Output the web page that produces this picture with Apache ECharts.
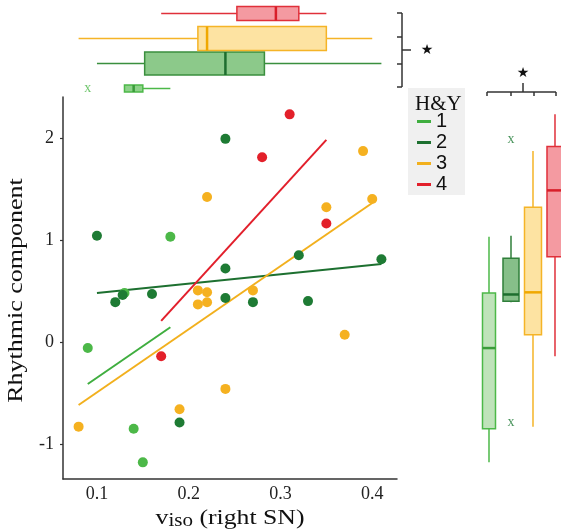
<!DOCTYPE html>
<html><head><meta charset="utf-8">
<script src="https://cdn.jsdelivr.net/npm/echarts@6/dist/echarts.min.js"></script>
<style>html,body{margin:0;padding:0;background:#fff}#c{width:561px;height:530px}</style>
</head><body><div id="c"></div>
<script>
// ---- data ----
const groups = ['1', '2', '3', '4'];                 // H&Y stage
const hy1X = [0.090, 0.130, 0.140, 0.150, 0.180];
const hy1Y = [-0.06, 0.48, -0.85, -1.18, 1.03];
const hy2X = [0.100, 0.120, 0.128, 0.160, 0.190, 0.240, 0.240, 0.240, 0.270, 0.320, 0.330, 0.410];
const hy2Y = [1.04, 0.39, 0.46, 0.47, -0.79, 1.99, 0.72, 0.43, 0.39, 0.85, 0.40, 0.81];
const hy3X = [0.080, 0.190, 0.210, 0.220, 0.210, 0.220, 0.220, 0.240, 0.270, 0.350, 0.370, 0.390, 0.400];
const hy3Y = [-0.83, -0.66, 0.505, 0.486, 0.368, 0.388, 1.42, -0.46, 0.505, 1.32, 0.07, 1.87, 1.40];
const hy4X = [0.170, 0.280, 0.310, 0.350];
const hy4Y = [-0.14, 1.81, 2.23, 1.16];
const xTicks = [0.1, 0.2, 0.3, 0.4];
const yTicks = [-1, 0, 1, 2];
const xName = 'v';
const xNameSub = 'iso';
const xNameRest = ' (right SN)';
const yName = 'Rhythmic component';
const legendTitle = 'H&Y';

// ---- styles ----
const dotColors = ['#4cb848', '#1e7b34', '#f5b120', '#e3202a'];
const lineColors = ['#3fae3f', '#1d7030', '#f2b01d', '#e21f2b'];
const topFill = ['#8ed28a', '#8cc98a', '#fde3a2', '#f49aa1'];
const topStroke = ['#4cb848', '#3a8f3e', '#f5b427', '#e0303a'];
const medColor = ['#3a9c3a', '#1d6e2e', '#f0a800', '#d81f2a'];
const topBoxH = [7, 23, 24, 14];
const rightFill = ['#bfe3ba', '#86bf89', '#fde3a2', '#f49aa1'];
const rightStroke = ['#4cb848', '#2f7f3a', '#f5b427', '#e0303a'];
const rightBoxW = [13, 16, 17, 16];
const SERIF = '"Liberation Serif", "Times New Roman", serif';
const SANS = '"Liberation Sans", Arial, sans-serif';

const xs = [hy1X, hy2X, hy3X, hy4X];
const ys = [hy1Y, hy2Y, hy3Y, hy4Y];

function quantile(a, p) {
  const H = (a.length - 1) * p + 1, h = Math.floor(H), v = a[h - 1], e = H - h;
  return e ? v + e * (a[h] - v) : v;
}
function boxStats(arr) {
  const s = arr.slice().sort((a, b) => a - b);
  const q1 = quantile(s, 0.25), md = quantile(s, 0.5), q3 = quantile(s, 0.75);
  const iqr = q3 - q1, lo = q1 - 1.5 * iqr, hi = q3 + 1.5 * iqr;
  const inside = s.filter(v => v >= lo && v <= hi);
  return { box: [inside[0], q1, md, q3, inside[inside.length - 1]], out: s.filter(v => v < lo || v > hi) };
}
function ols(x, y) {
  const n = x.length;
  const mx = x.reduce((a, b) => a + b, 0) / n, my = y.reduce((a, b) => a + b, 0) / n;
  let sxy = 0, sxx = 0;
  for (let i = 0; i < n; i++) { sxy += (x[i] - mx) * (y[i] - my); sxx += (x[i] - mx) * (x[i] - mx); }
  const b = sxy / sxx, a = my - b * mx;
  const x0 = Math.min(...x), x1 = Math.max(...x);
  return [[x0, a + b * x0], [x1, a + b * x1]];
}

const xMin = 0.063, xMax = 0.427, yMin = -1.343, yMax = 2.4;

const topData = [], rightData = [], topOut = [], rightOut = [];
groups.forEach((g, i) => {
  const sx = boxStats(xs[i]), sy = boxStats(ys[i]);
  topData.push([i].concat(sx.box));
  rightData.push([i].concat(sy.box));
  sx.out.forEach(v => topOut.push({ value: [v, i], label: { color: dotColors[i] } }));
  sy.out.forEach(v => rightOut.push({ value: [i, v], label: { color: dotColors[i] } }));
});

function renderTop(params, api) {
  const g = api.value(0);
  const h = topBoxH[g];
  const c = v => api.coord([v, g]);
  const pMin = c(api.value(1)), pQ1 = c(api.value(2)), pMd = c(api.value(3)), pQ3 = c(api.value(4)), pMax = c(api.value(5));
  const y = pMin[1];
  const st = { stroke: topStroke[g], lineWidth: 1.5 };
  return { type: 'group', children: [
    { type: 'line', shape: { x1: pMin[0], y1: y, x2: pQ1[0], y2: y }, style: st },
    { type: 'line', shape: { x1: pQ3[0], y1: y, x2: pMax[0], y2: y }, style: st },
    { type: 'rect', shape: { x: pQ1[0], y: y - h / 2, width: pQ3[0] - pQ1[0], height: h }, style: { fill: topFill[g], stroke: topStroke[g], lineWidth: 1.5 } },
    { type: 'line', shape: { x1: pMd[0], y1: y - h / 2, x2: pMd[0], y2: y + h / 2 }, style: { stroke: medColor[g], lineWidth: 2.5 } }
  ] };
}
function renderRight(params, api) {
  const g = api.value(0);
  const w = rightBoxW[g];
  const c = v => api.coord([g, v]);
  const pMin = c(api.value(1)), pQ1 = c(api.value(2)), pMd = c(api.value(3)), pQ3 = c(api.value(4)), pMax = c(api.value(5));
  const x = pMin[0];
  const st = { stroke: rightStroke[g], lineWidth: 1.5 };
  return { type: 'group', children: [
    { type: 'line', shape: { x1: x, y1: pMin[1], x2: x, y2: pQ1[1] }, style: st },
    { type: 'line', shape: { x1: x, y1: pQ3[1], x2: x, y2: pMax[1] }, style: st },
    { type: 'rect', shape: { x: x - w / 2, y: pQ3[1], width: w, height: pQ1[1] - pQ3[1] }, style: { fill: rightFill[g], stroke: rightStroke[g], lineWidth: 1.5 } },
    { type: 'line', shape: { x1: x - w / 2, y1: pMd[1], x2: x + w / 2, y2: pMd[1] }, style: { stroke: medColor[g], lineWidth: 2.5 } }
  ] };
}

const series = [];
groups.forEach((g, i) => {
  series.push({
    name: g, type: 'line', data: ols(xs[i], ys[i]), showSymbol: false, symbol: 'none', z: 2,
    lineStyle: { color: lineColors[i], width: 2 }, itemStyle: { color: lineColors[i] }, silent: true
  });
});
groups.forEach((g, i) => {
  series.push({
    name: g, type: 'scatter', data: xs[i].map((v, k) => [v, ys[i][k]]), symbolSize: 10, z: 3,
    itemStyle: { color: dotColors[i], opacity: 1 }
  });
});
series.push({ name: 'box-top', type: 'custom', xAxisIndex: 1, yAxisIndex: 1, data: topData,
  encode: { x: [1, 2, 3, 4, 5], y: 0 }, renderItem: renderTop });
series.push({ name: 'box-right', type: 'custom', xAxisIndex: 2, yAxisIndex: 2, data: rightData,
  encode: { x: 0, y: [1, 2, 3, 4, 5] }, renderItem: renderRight });
const outLabel = { show: true, position: 'inside', formatter: 'x', fontFamily: SERIF, fontSize: 14 };
series.push({ name: 'out-top', type: 'scatter', xAxisIndex: 1, yAxisIndex: 1, data: topOut, symbolSize: 1,
  itemStyle: { color: 'rgba(0,0,0,0)' }, label: outLabel });
series.push({ name: 'out-right', type: 'scatter', xAxisIndex: 2, yAxisIndex: 2, data: rightOut, symbolSize: 1,
  itemStyle: { color: 'rgba(0,0,0,0)' }, label: outLabel });

const ink = '#333';
const seg = (x1, y1, x2, y2) => ({ type: 'line', shape: { x1, y1, x2, y2 }, style: { stroke: ink, lineWidth: 1.5 } });
const center = { align: 'center', textAlign: 'center', verticalAlign: 'middle', textVerticalAlign: 'middle' };

const option = {
  animation: false,
  backgroundColor: '#fff',
  grid: [
    { left: 63, top: 97, width: 334, height: 382 },
    { left: 63, top: 1, width: 334, height: 100 },
    { left: 478, top: 97, width: 83, height: 382 }
  ],
  xAxis: [
    { type: 'value', gridIndex: 0, min: xMin, max: xMax,
      axisLine: { show: true, onZero: false, lineStyle: { color: ink, width: 1.5 } },
      axisTick: { show: false }, splitLine: { show: false },
      axisLabel: { customValues: xTicks, formatter: v => v.toFixed(1), fontFamily: SERIF, fontSize: 18, color: '#222', margin: 6 } },
    { type: 'value', gridIndex: 1, min: xMin, max: xMax, show: false },
    { type: 'value', gridIndex: 2, min: -0.5, max: 3.273, show: false }
  ],
  yAxis: [
    { type: 'value', gridIndex: 0, min: yMin, max: yMax,
      axisLine: { show: true, onZero: false, lineStyle: { color: ink, width: 1.5 } },
      axisTick: { show: true, length: 3, customValues: yTicks, lineStyle: { color: ink, width: 1.2 } },
      splitLine: { show: false },
      axisLabel: { customValues: yTicks, fontFamily: SERIF, fontSize: 18, color: '#222', margin: 9 } },
    { type: 'category', gridIndex: 1, data: groups, show: false },
    { type: 'value', gridIndex: 2, min: yMin, max: yMax, show: false }
  ],
  legend: {
    data: groups.map((g, i) => ({ name: g, icon: 'rect', itemStyle: { color: lineColors[i] } })),
    orient: 'vertical', left: 417, top: 111, padding: 0, itemGap: 0,
    itemWidth: 14, itemHeight: 3, selectedMode: false,
    textStyle: { fontFamily: SANS, fontSize: 20, color: '#111', lineHeight: 21 }
  },
  graphic: [
    { type: 'rect', z: 0, shape: { x: 408, y: 88, width: 57, height: 107 }, style: { fill: '#f0f0f0' } },
    { type: 'text', z: 1, x: 415, y: 104, style: { text: legendTitle, font: '21px ' + SERIF, fill: '#111', verticalAlign: 'middle', textVerticalAlign: 'middle' } },
    { type: 'text', z: 1, x: 17, y: 290.5, rotation: Math.PI / 2, scaleX: 1.3,
      style: Object.assign({ text: yName, font: '20px ' + SERIF, fill: '#111' }, center) },
    { type: 'text', z: 1, x: 230, y: 518, scaleX: 1.17,
      style: Object.assign({
        text: '{a|' + xName + '}{b|' + xNameSub + '}{a|' + xNameRest + '}',
        rich: {
          a: { fontFamily: SERIF, fontSize: 22, fill: '#111', lineHeight: 24 },
          b: { fontFamily: SERIF, fontSize: 18, fill: '#111', lineHeight: 17, verticalAlign: 'bottom' }
        }, fill: '#111' }, center) },
    // top bracket
    seg(402, 13, 402, 87), seg(397, 13, 402, 13), seg(397, 37, 402, 37), seg(397, 64, 402, 64), seg(397, 87, 402, 87), seg(402, 50, 411, 50),
    { type: 'text', x: 427, y: 50, style: Object.assign({ text: '★', font: '14px "DejaVu Sans"', fill: '#111' }, center) },
    // right bracket
    seg(487, 92, 556, 92), seg(487, 92, 487, 96), seg(511, 92, 511, 96), seg(534, 92, 534, 96), seg(556, 92, 556, 96), seg(523, 92, 523, 83),
    { type: 'text', x: 523, y: 73, style: Object.assign({ text: '★', font: '14px "DejaVu Sans"', fill: '#111' }, center) }
  ],
  series: series
};

const chart = echarts.init(document.getElementById('c'), null, { renderer: 'canvas' });
chart.setOption(option);
</script>
</body></html>
